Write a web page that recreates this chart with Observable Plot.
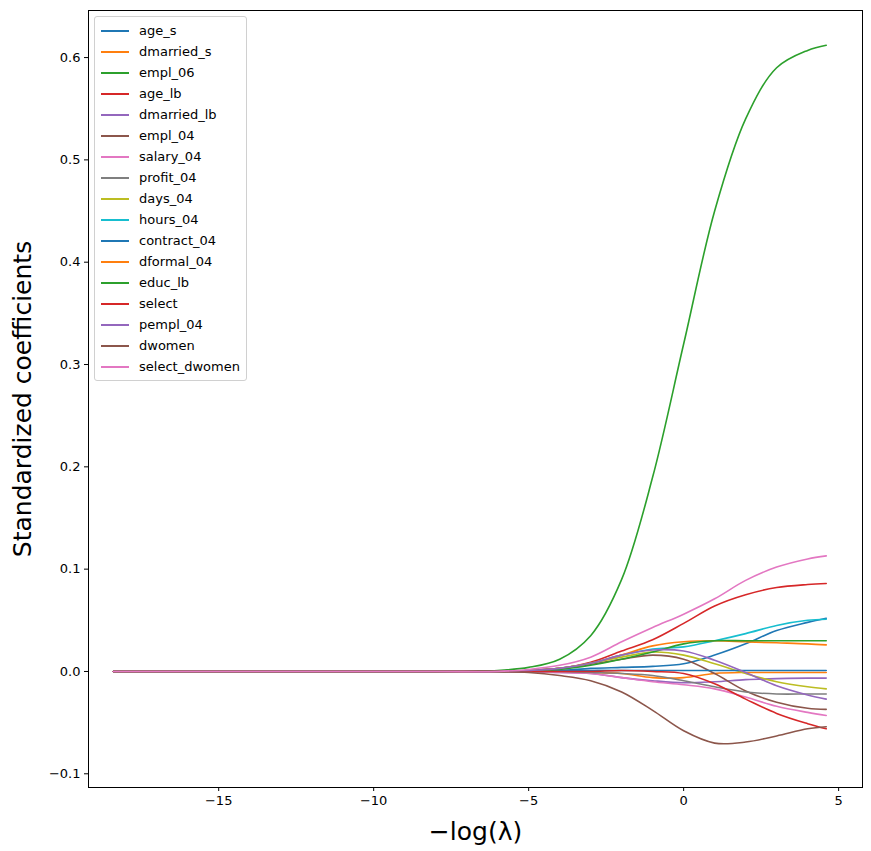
<!DOCTYPE html>
<html>
<head>
<meta charset="UTF-8">
<script src="https://cdn.jsdelivr.net/npm/d3@7"></script>
<script src="https://cdn.jsdelivr.net/npm/@observablehq/plot@0.6"></script>
<style>
  body { margin: 0; background: #fff; font-family: "DejaVu Sans", sans-serif; }
  #wrap { position: relative; width: 871px; height: 851px; }
  #legend {
    position: absolute; left: 94px; top: 16px; padding: 3px 6px 3px 6px;
    border: 1px solid #d0d0d0; border-radius: 3px; background: rgba(255,255,255,0.85);
    font-size: 13px; line-height: 21px;
  }
  #legend .row { display: flex; align-items: center; white-space: nowrap; }
  #legend .sw { width: 28px; height: 2px; margin-right: 10px; }
</style>
</head>
<body>
<div id="wrap"><div id="chart"></div><div id="legend"></div></div>
<script>
const xs = [-18.4, -8, -6, -5, -4, -3, -2, -1, 0, 1, 2, 3, 4, 4.6];

const names = ["age_s", "dmarried_s", "empl_06", "age_lb", "dmarried_lb", "empl_04",
  "salary_04", "profit_04", "days_04", "hours_04", "contract_04", "dformal_04",
  "educ_lb", "select", "pempl_04", "dwomen", "select_dwomen"];

const colors = ["#1f77b4", "#ff7f0e", "#2ca02c", "#d62728", "#9467bd", "#8c564b",
  "#e377c2", "#7f7f7f", "#bcbd22", "#17becf", "#1f77b4", "#ff7f0e",
  "#2ca02c", "#d62728", "#9467bd", "#8c564b", "#e377c2"];

const age_s         = [0, 0, 0, 0.0005, 0.001, 0.003, 0.004, 0.005, 0.0075, 0.016, 0.027, 0.040, 0.048, 0.052];
const dmarried_s    = [0, 0, 0, 0, -0.0005, -0.001, -0.002, -0.006, -0.006, -0.002, -0.001, -0.001, -0.001, -0.001];
const empl_06       = [0, 0, 0.001, 0.004, 0.012, 0.035, 0.09, 0.19, 0.32, 0.45, 0.54, 0.59, 0.607, 0.612];
const age_lb        = [0, 0, 0, 0.001, 0.003, 0.009, 0.020, 0.031, 0.047, 0.064, 0.075, 0.082, 0.085, 0.086];
const dmarried_lb   = [0, 0, 0, 0, -0.001, -0.002, -0.006, -0.009, -0.011, -0.010, -0.008, -0.007, -0.0065, -0.0065];
const empl_04       = [0, 0, 0, 0.001, 0.003, 0.007, 0.012, 0.016, 0.012, -0.002, -0.019, -0.030, -0.036, -0.037];
const salary_04     = [0, 0, 0, 0, -0.001, -0.002, -0.006, -0.010, -0.013, -0.017, -0.025, -0.034, -0.040, -0.043];
const profit_04     = [0, 0, 0, 0, 0, -0.001, -0.002, -0.004, -0.009, -0.015, -0.020, -0.022, -0.022, -0.022];
const days_04       = [0, 0, 0, 0.001, 0.003, 0.008, 0.014, 0.019, 0.016, 0.0075, -0.002, -0.010, -0.015, -0.017];
const hours_04      = [0, 0, 0, 0.001, 0.003, 0.008, 0.016, 0.022, 0.024, 0.030, 0.037, 0.045, 0.050, 0.051];
const contract_04   = [0, 0, 0, 0, 0.0005, 0.001, 0.001, 0.001, 0.001, 0.001, 0.001, 0.001, 0.001, 0.001];
const dformal_04    = [0, 0, 0, 0.001, 0.003, 0.008, 0.016, 0.025, 0.029, 0.030, 0.029, 0.028, 0.027, 0.026];
const educ_lb       = [0, 0, 0, 0.001, 0.002, 0.006, 0.012, 0.019, 0.027, 0.030, 0.030, 0.030, 0.030, 0.030];
const select        = [0, 0, 0, 0, 0, 0, 0.001, 0, -0.002, -0.012, -0.027, -0.041, -0.051, -0.056];
const pempl_04      = [0, 0, 0, 0.001, 0.003, 0.008, 0.016, 0.021, 0.020, 0.011, -0.001, -0.014, -0.023, -0.027];
const dwomen        = [0, 0, 0, -0.001, -0.004, -0.009, -0.020, -0.038, -0.058, -0.070, -0.069, -0.063, -0.056, -0.054];
const select_dwomen = [0, 0, 0, 0.002, 0.006, 0.014, 0.029, 0.043, 0.056, 0.071, 0.089, 0.102, 0.110, 0.113];

const series = [age_s, dmarried_s, empl_06, age_lb, dmarried_lb, empl_04, salary_04, profit_04,
  days_04, hours_04, contract_04, dformal_04, educ_lb, select, pempl_04, dwomen, select_dwomen];

const rows = [];
series.forEach((vals, i) => vals.forEach((v, j) => rows.push({name: names[i], idx: i, x: xs[j], y: v})));

const chart = Plot.plot({
  width: 871,
  height: 851,
  marginLeft: 88,
  marginRight: 9,
  marginTop: 10,
  marginBottom: 64,
  style: {fontFamily: "DejaVu Sans, sans-serif", fontSize: "13px", color: "#000"},
  x: {domain: [-19.2, 5.77]},
  y: {domain: [-0.1134, 0.646]},
  color: {domain: d3.range(names.length), range: colors},
  marks: [
    Plot.axisX({ticks: [-15, -10, -5, 0, 5], tickFormat: d3.format("d"), tickSize: 4, tickPadding: 4, label: null, fontSize: 13}),
    Plot.axisY({ticks: d3.range(-0.1, 0.61, 0.1), tickFormat: d3.format(".1f"), tickSize: 4, tickPadding: 4, label: null, fontSize: 13}),
    Plot.line(rows, {x: "x", y: "y", z: "idx", stroke: "idx", strokeWidth: 1.6, curve: "catmull-rom"}),
    Plot.frame({stroke: "#000", strokeWidth: 1}),
    Plot.text(["Standardized coefficients"], {frameAnchor: "left", textAnchor: "middle", rotate: -90, dx: -66, fontSize: 25, fill: "#000"}),
    Plot.text(["−log(λ)"], {frameAnchor: "bottom", textAnchor: "middle", dy: 52, fontSize: 25, fill: "#000"})
  ]
});
document.getElementById("chart").appendChild(chart);

const legend = document.getElementById("legend");
names.forEach((n, i) => {
  const r = document.createElement("div");
  r.className = "row";
  r.innerHTML = `<span class="sw" style="background:${colors[i]}"></span><span>${n}</span>`;
  legend.appendChild(r);
});
</script>
</body>
</html>
